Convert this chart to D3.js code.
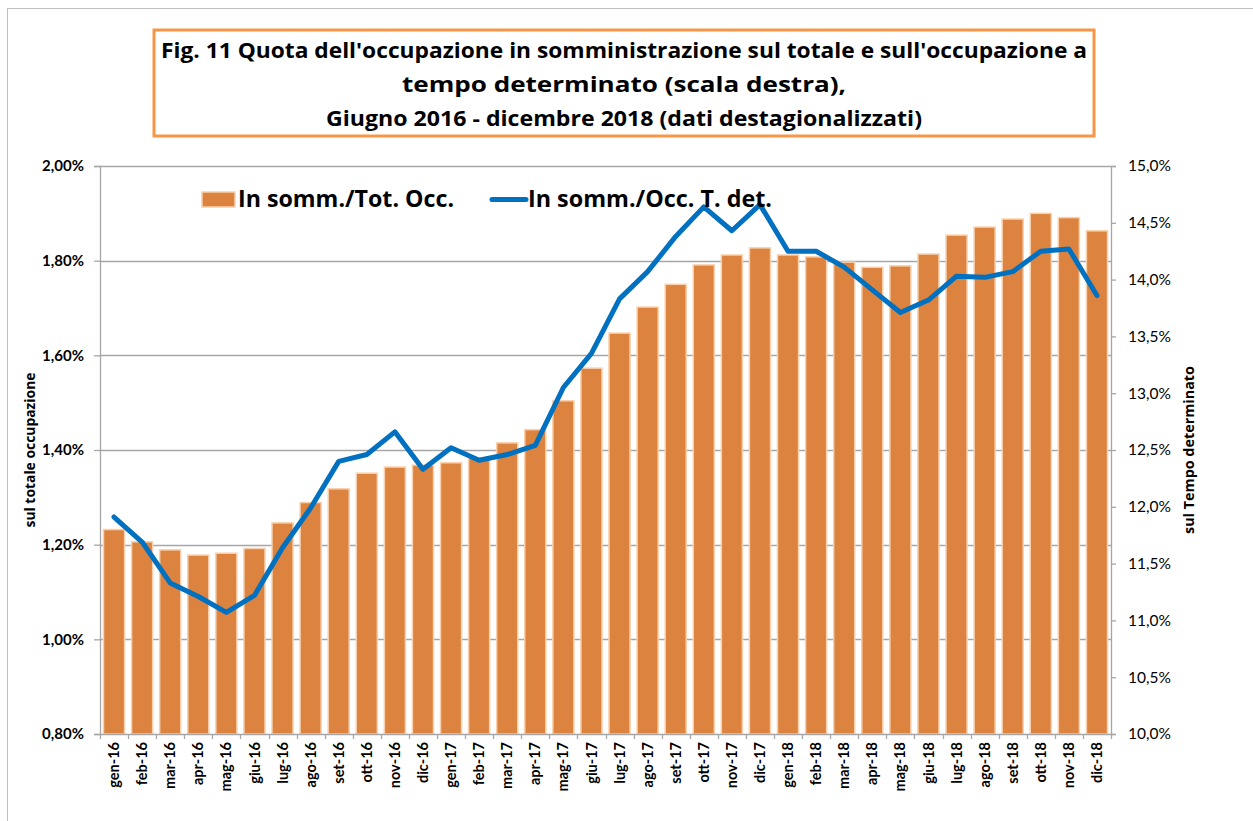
<!DOCTYPE html>
<html>
<head>
<meta charset="utf-8">
<script src="https://cdn.jsdelivr.net/npm/d3@7"></script>
<style>
  body { margin: 0; background: #fff; }
  svg { display: block; font-family: "Open Sans", "DejaVu Sans", sans-serif; }
</style>
</head>
<body>
<svg class="chart" width="1253" height="821"></svg>
<script>
// months on the x axis
var months = ["gen-16","feb-16","mar-16","apr-16","mag-16","giu-16","lug-16","ago-16","set-16","ott-16","nov-16","dic-16",
  "gen-17","feb-17","mar-17","apr-17","mag-17","giu-17","lug-17","ago-17","set-17","ott-17","nov-17","dic-17",
  "gen-18","feb-18","mar-18","apr-18","mag-18","giu-18","lug-18","ago-18","set-18","ott-18","nov-18","dic-18"];

// In somm./Tot. Occ. (left scale, %)
var quotaTotale = [1.232,1.206,1.189,1.178,1.182,1.192,1.246,1.289,1.318,1.351,1.364,1.368,
  1.373,1.383,1.415,1.443,1.504,1.573,1.647,1.702,1.750,1.791,1.812,1.827,
  1.812,1.808,1.797,1.786,1.789,1.814,1.854,1.871,1.888,1.900,1.891,1.863];

// In somm./Occ. T. det. (right scale, %)
var quotaTempoDet = [11.91,11.69,11.33,11.21,11.07,11.22,11.64,11.99,12.40,12.46,12.66,12.33,
  12.52,12.41,12.46,12.54,13.05,13.35,13.83,14.07,14.38,14.64,14.43,14.66,
  14.25,14.25,14.11,13.91,13.71,13.82,14.03,14.02,14.07,14.25,14.27,13.86];

var leftTicks = [0.8, 1.0, 1.2, 1.4, 1.6, 1.8, 2.0];
var rightTicks = [10, 10.5, 11, 11.5, 12, 12.5, 13, 13.5, 14, 14.5, 15];

var titleLines = ["Fig. 11 Quota dell'occupazione in somministrazione sul totale e sull'occupazione a",
  "tempo determinato (scala destra),",
  "Giugno 2016 - dicembre 2018 (dati destagionalizzati)"];

var svg = d3.select(".chart"),
    margin = { top: 166, left: 100, right: 142, bottom: 87 },
    width = +svg.attr("width") - margin.left - margin.right,
    height = +svg.attr("height") - margin.top - margin.bottom;

var gridColor = "#a6a6a6";
var tickFont = "Lato, 'Open Sans', sans-serif";
var itFmt = function(v, dec) { return v.toFixed(dec).replace(".", ",") + "%"; };

// outer frame
svg.append("rect")
    .attr("x", 7.5).attr("y", 8.5)
    .attr("width", 1300).attr("height", 900)
    .attr("fill", "none")
    .attr("stroke", "#bfbfbf");

// title box
svg.append("rect")
    .attr("x", 154).attr("y", 30)
    .attr("width", 940).attr("height", 106)
    .attr("fill", "#fff")
    .attr("stroke", "#f79646")
    .attr("stroke-width", 3);

var titleWidths = [926, 444, 596];
svg.selectAll(".title")
    .data(titleLines)
    .enter().append("text")
    .attr("class", "title")
    .attr("x", 624)
    .attr("y", function(d, i) { return 58 + i * 34; })
    .attr("text-anchor", "middle")
    .attr("font-size", 22)
    .attr("font-weight", "bold")
    .attr("textLength", function(d, i) { return titleWidths[i]; })
    .attr("lengthAdjust", "spacingAndGlyphs")
    .text(function(d) { return d; });

var x = d3.scaleBand().domain(months).range([0, width]).paddingInner(0.25).paddingOuter(0.125),
    yL = d3.scaleLinear().domain([0.8, 2.0]).range([height, 0]),
    yR = d3.scaleLinear().domain([10, 15]).range([height, 0]);

var g = svg.append("g")
    .attr("transform", "translate(" + margin.left + "," + margin.top + ")");

// gridlines
g.append("g")
    .selectAll("line")
    .data(leftTicks.slice(1))
    .enter().append("line")
    .attr("x1", 0).attr("x2", width)
    .attr("y1", function(d) { return Math.round(yL(d)) + 0.5; })
    .attr("y2", function(d) { return Math.round(yL(d)) + 0.5; })
    .attr("stroke", gridColor)
    .attr("stroke-width", 1.3);

// bars
g.selectAll(".bar")
    .data(quotaTotale)
    .enter().append("rect")
    .attr("class", "bar")
    .attr("x", function(d, i) { return x(months[i]); })
    .attr("y", function(d) { return yL(d); })
    .attr("width", x.bandwidth())
    .attr("height", function(d) { return height - yL(d); })
    .attr("fill", "#dc843f")
    .attr("stroke", "#fad0ac")
    .attr("stroke-width", 1.5);

// left axis
g.append("g")
    .attr("class", "axis axis--left")
    .call(d3.axisLeft(yL).tickValues(leftTicks).tickSize(6).tickPadding(10)
      .tickFormat(function(d) { return itFmt(d, 2); }));

// right axis
g.append("g")
    .attr("class", "axis axis--right")
    .attr("transform", "translate(" + width + ",0)")
    .call(d3.axisRight(yR).tickValues(rightTicks).tickSize(5).tickPadding(12)
      .tickFormat(function(d) { return itFmt(d, 1); }));

// x axis
var bandStep = x.step();
var axX = g.append("g")
    .attr("class", "axis axis--x")
    .attr("transform", "translate(0," + height + ")")
    .call(d3.axisBottom(x).tickSize(0).tickPadding(8));

axX.selectAll(".tick text")
    .attr("transform", "rotate(-90)")
    .attr("text-anchor", "end")
    .attr("x", -8)
    .attr("y", 0)
    .attr("dy", "0.35em");

axX.selectAll(".sep")
    .data(d3.range(months.length + 1))
    .enter().append("line")
    .attr("class", "sep")
    .attr("x1", function(i) { return Math.round(i * bandStep) + 0.5; })
    .attr("x2", function(i) { return Math.round(i * bandStep) + 0.5; })
    .attr("y1", 0).attr("y2", 5)
    .attr("stroke", gridColor);

g.selectAll(".axis path, .axis line").attr("stroke", gridColor).attr("stroke-width", 1.3);
g.selectAll(".axis--left text")
    .attr("font-size", 15).attr("font-weight", "bold").attr("fill", "#000")
    .attr("font-family", tickFont);
g.selectAll(".axis--right text")
    .attr("font-size", 15.5).attr("fill", "#000")
    .attr("font-family", tickFont);
g.selectAll(".axis--x text")
    .attr("font-size", 14.5).attr("font-weight", "bold").attr("fill", "#000")
    .attr("font-family", tickFont);

// line
var line = d3.line()
    .x(function(d, i) { return x(months[i]) + x.bandwidth() / 2; })
    .y(function(d) { return yR(d); });

g.append("path")
    .datum(quotaTempoDet)
    .attr("fill", "none")
    .attr("stroke", "#0070c0")
    .attr("stroke-width", 5)
    .attr("stroke-linejoin", "round")
    .attr("stroke-linecap", "round")
    .attr("d", line);

// axis titles
svg.append("text")
    .attr("transform", "translate(35," + (margin.top + height / 2) + ") rotate(-90)")
    .attr("text-anchor", "middle")
    .attr("font-size", 13.5)
    .attr("font-weight", "bold")
    .attr("textLength", 155).attr("lengthAdjust", "spacingAndGlyphs")
    .text("sul totale occupazione");

svg.append("text")
    .attr("transform", "translate(1194," + (margin.top + height / 2) + ") rotate(-90)")
    .attr("text-anchor", "middle")
    .attr("font-size", 13.5)
    .attr("font-weight", "bold")
    .attr("textLength", 168).attr("lengthAdjust", "spacingAndGlyphs")
    .text("sul Tempo determinato");

// legend
var legend = svg.append("g").attr("class", "legend");
legend.append("rect")
    .attr("x", 202).attr("y", 192)
    .attr("width", 33).attr("height", 15)
    .attr("fill", "#dc843f")
    .attr("stroke", "#fad0ac")
    .attr("stroke-width", 1.5);
legend.append("text")
    .attr("x", 238).attr("y", 207)
    .attr("font-size", 23).attr("font-weight", "bold")
    .attr("textLength", 216).attr("lengthAdjust", "spacingAndGlyphs")
    .text("In somm./Tot. Occ.");
legend.append("line")
    .attr("x1", 492).attr("x2", 526)
    .attr("y1", 199.5).attr("y2", 199.5)
    .attr("stroke", "#0070c0")
    .attr("stroke-width", 5)
    .attr("stroke-linecap", "round");
legend.append("text")
    .attr("x", 528).attr("y", 207)
    .attr("font-size", 23).attr("font-weight", "bold")
    .attr("textLength", 244).attr("lengthAdjust", "spacingAndGlyphs")
    .text("In somm./Occ. T. det.");
</script>
</body>
</html>
